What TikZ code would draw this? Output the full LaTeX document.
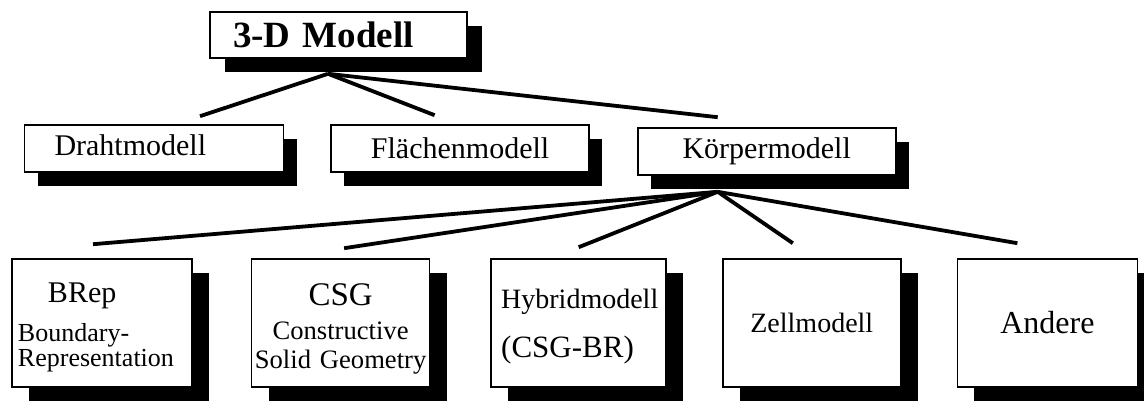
\documentclass[tikz,border=0pt]{standalone}
\usepackage{fontspec}
\setmainfont{Liberation Serif}
\usetikzlibrary{positioning,shadows}

\newcommand{\bigtxt}{\fontsize{15}{18}\selectfont}
\newcommand{\smalltxt}{\fontsize{13}{12.5}\selectfont}

\begin{document}
\begin{tikzpicture}[x=0.5pt, y=-0.5pt,
  box/.style={draw, fill=white, line width=0.8pt, inner sep=0pt},
  boxshadow/.style={drop shadow={shadow xshift=#1, shadow yshift=-6.8pt, opacity=1, fill=black}},
  boxshadow/.default=6.5pt,
  midbox/.style={box, boxshadow, minimum width=129pt, minimum height=23.5pt, font=\bigtxt},
  lowbox/.style={box, boxshadow=8.5pt, minimum width=89pt, minimum height=64pt,
    inner xsep=1pt, text width=87pt, align=center},
  link/.style={line width=1.9pt}]
  \useasboundingbox (0,0) rectangle (1144,401);

  % Gesamtmodell
  \node[box, boxshadow=7.5pt, minimum height=23pt, inner xsep=11.5pt, text width=105.5pt, align=left,
    font=\fontsize{18.5}{22}\selectfont\bfseries] (root) at (338.5,35) {3-D Modell};

  % Modellarten
  \node[midbox, inner xsep=15pt, text width=99.5pt, align=left, text depth=3pt] (draht) at (154,148.5) {Drahtmodell};
  \node[midbox, right=23pt of draht] (flaechen) {Flächenmodell};
  \node[midbox, right=23.5pt of flaechen, yshift=-1.5pt] (koerper) {Körpermodell};

  % Koerpermodelle
  \node[lowbox, minimum width=90pt, inner xsep=3pt, text width=84pt, align=left, text depth=30pt,
    font=\smalltxt] (brep) at (102,323)
    {\bigtxt\hspace*{15pt}BRep\\[7pt]\smalltxt Boundary-\\Representation};
  \node[lowbox, minimum width=88.5pt, text depth=28.5pt, font=\fontsize{13.3}{14.5}\selectfont,
    right=29pt of brep] (csg)
    {\fontsize{16.5}{18}\selectfont CSG\\[2.5pt]\fontsize{13.3}{14.5}\selectfont Constructive\\\mbox{Solid Geometry}};
  \node[lowbox, minimum width=87.5pt, inner xsep=5pt, text width=77.5pt, align=left, text depth=24pt,
    font=\fontsize{15.5}{24.5}\selectfont, right=30pt of csg] (hybrid)
    {\fontsize{14}{17}\selectfont Hybridmodell\\\fontsize{15.5}{24.5}\selectfont(CSG-BR)};
  \node[lowbox, right=27.5pt of hybrid, font=\fontsize{14}{17}\selectfont] (zell) {Zellmodell};
  \node[lowbox, minimum width=90pt, right=27.5pt of zell, font=\fontsize{16}{19}\selectfont] (andere) {Andere};

  % Anschlusspunkte
  \coordinate (rootfoot) at ([xshift=-5.25pt, yshift=-7.5pt]root.south);
  \coordinate (drahttop) at ([xshift=23pt, yshift=4pt]draht.north);
  \coordinate (flaechentop) at ([xshift=-12.75pt, yshift=4.5pt]flaechen.north);
  \coordinate (koerpertop) at ([xshift=-24.5pt, yshift=5pt]koerper.north);
  \coordinate (koerperfoot) at ([xshift=-24.5pt, yshift=-8pt]koerper.south);
  \coordinate (breptop) at ([xshift=-4.5pt, yshift=7pt]brep.north);
  \coordinate (csgtop) at ([xshift=1.75pt, yshift=5pt]csg.north);
  \coordinate (hybridtop) at ([yshift=5.5pt]hybrid.north);
  \coordinate (zelltop) at ([xshift=-9.5pt, yshift=7.5pt]zell.north);
  \coordinate (anderetop) at ([xshift=-15pt, yshift=7.5pt]andere.north);

  \draw[link] (rootfoot) -- (drahttop);
  \draw[link] (rootfoot) -- (flaechentop);
  \draw[link] (rootfoot) -- (koerpertop);
  \draw[link] (koerperfoot) -- (breptop);
  \draw[link] (koerperfoot) -- (csgtop);
  \draw[link] (koerperfoot) -- (hybridtop);
  \draw[link] (koerperfoot) -- (zelltop);
  \draw[link] (koerperfoot) -- (anderetop);
\end{tikzpicture}
\end{document}
